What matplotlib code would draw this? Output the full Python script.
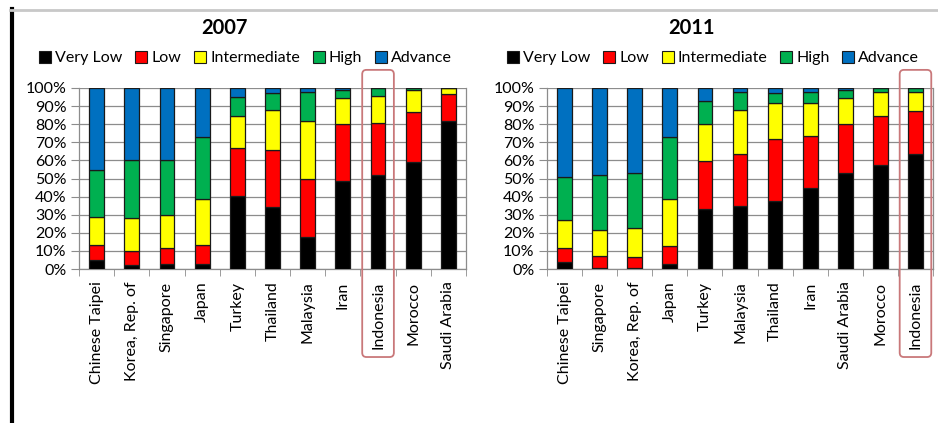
import matplotlib
matplotlib.use("Agg")
import matplotlib.pyplot as plt
import matplotlib.transforms as mtransforms
from matplotlib.patches import FancyBboxPatch
from matplotlib.lines import Line2D
import numpy as np

plt.rcParams['font.family'] = ['Lato', 'DejaVu Sans']

levels = ['Very Low', 'Low', 'Intermediate', 'High', 'Advance']
colors = ['#000000', '#FF0000', '#FFFF00', '#00B050', '#0070C0']

# 2007 shares (%) per level
countries_2007 = ['Chinese Taipei', 'Korea, Rep. of', 'Singapore', 'Japan', 'Turkey',
                  'Thailand', 'Malaysia', 'Iran', 'Indonesia', 'Morocco', 'Saudi Arabia']
very_low_2007 = [5, 2, 3, 3, 40.6, 34.1, 17.7, 48.7, 51.8, 58.9, 81.9]
low_2007 = [8.5, 8, 8.5, 10, 26.4, 31.6, 32.1, 31.3, 28.8, 28, 15]
intermediate_2007 = [15, 18.4, 18.2, 25.6, 17.5, 21.9, 31.9, 14.5, 15.2, 12, 3.1]
high_2007 = [26, 31.6, 30.3, 34.6, 10.3, 9.4, 15.9, 4.2, 4.2, 1.1, 0]
advance_2007 = [45.5, 40, 40, 26.8, 5.2, 3, 2.4, 1.3, 0, 0, 0]

# 2011 shares (%) per level
countries_2011 = ['Chinese Taipei', 'Singapore', 'Korea, Rep. of', 'Japan', 'Turkey',
                  'Malaysia', 'Thailand', 'Iran', 'Saudi Arabia', 'Morocco', 'Indonesia']
very_low_2011 = [4, 0.4, 0.4, 3, 33, 34.9, 37.6, 44.8, 53.1, 57.2, 63.7]
low_2011 = [7.4, 7, 6.4, 9.5, 26.8, 28.6, 34.2, 28.8, 26.8, 27.5, 23.8]
intermediate_2011 = [15.6, 14.2, 15.9, 26.1, 20.1, 24.1, 19.7, 17.9, 14.6, 12.9, 10.1]
high_2011 = [23.6, 30.2, 30.1, 34.3, 13.1, 10, 5.7, 6.1, 4.4, 2.4, 2.4]
advance_2011 = [49.4, 48.2, 47.2, 27.1, 7, 2.4, 2.8, 2.4, 1.1, 0, 0]

data_2007 = [very_low_2007, low_2007, intermediate_2007, high_2007, advance_2007]
data_2011 = [very_low_2011, low_2011, intermediate_2011, high_2011, advance_2011]

fig = plt.figure(figsize=(9.38, 4.23), dpi=100)
fig.patch.set_facecolor('white')

panels = [
    ('2007', countries_2007, data_2007, [0.0842, 0.364, 0.4126, 0.428], 'Indonesia'),
    ('2011', countries_2011, data_2011, [0.5832, 0.364, 0.4115, 0.428], 'Indonesia'),
]

for title, countries, series, rect, highlight in panels:
    ax = fig.add_axes(rect)
    x = np.arange(len(countries))
    bottom = np.zeros(len(countries))
    for name, vals, col in zip(levels, series, colors):
        vals = np.array(vals)
        ax.bar(x, vals, 0.42, bottom=bottom, color=col, edgecolor='#1a1a1a',
               linewidth=0.9, label=name, zorder=3)
        bottom += vals

    ax.set_xlim(-0.5, len(countries) - 0.5)
    ax.set_ylim(0, 100)
    ax.set_yticks(np.arange(0, 101, 10))
    ax.set_yticklabels([f'{v}%' for v in range(0, 101, 10)], fontsize=11.5)
    ax.yaxis.grid(True, color='#8c8c8c', linewidth=0.9, zorder=0)
    ax.tick_params(axis='y', length=6, color='#8c8c8c', pad=3)

    ax.set_xticks(x)
    ax.set_xticklabels(countries, rotation=90, fontsize=11.5)
    ax.set_xticks(np.arange(-0.5, len(countries), 1), minor=True)
    ax.tick_params(axis='x', which='major', length=0, pad=9)
    ax.tick_params(axis='x', which='minor', length=5, color='#8c8c8c')

    ax.spines['top'].set_visible(False)
    for side in ['left', 'bottom', 'right']:
        ax.spines[side].set_color('#8c8c8c')
        ax.spines[side].set_linewidth(0.9)

    ax.text(0.375, 1.33, title, transform=ax.transAxes, ha='center', va='center',
            fontsize=14.5, fontweight='bold')

    handles = [plt.Rectangle((0, 0), 1, 1, facecolor=c, edgecolor='#1a1a1a', linewidth=0.8)
               for c in colors]
    ax.legend(handles, levels, loc='center', bbox_to_anchor=(0.43, 1.165), ncol=5,
              frameon=False, fontsize=11.5, handlelength=0.75, handleheight=0.75,
              handletextpad=0.25, columnspacing=0.8)

    # rounded frame around the highlighted country
    idx = countries.index(highlight)
    trans = mtransforms.blended_transform_factory(ax.transData, ax.transAxes)
    box = FancyBboxPatch((idx - 0.45, -0.486), 0.9, 1.586,
                         boxstyle='round,pad=0,rounding_size=0.12',
                         transform=trans, clip_on=False, facecolor='none',
                         edgecolor='#C9787A', linewidth=1.3, zorder=5,
                         mutation_aspect=0.2)
    ax.add_patch(box)

# page frame lines
fig.add_artist(Line2D([11.5 / 938, 11.5 / 938], [0, 1 - 9 / 423], color='black',
                      linewidth=3, transform=fig.transFigure))
fig.add_artist(Line2D([10 / 938, 937 / 938], [1 - 10 / 423, 1 - 10 / 423],
                      color='#c8c8c8', linewidth=2, transform=fig.transFigure))

fig.savefig('out.png', dpi=100, facecolor='white')
